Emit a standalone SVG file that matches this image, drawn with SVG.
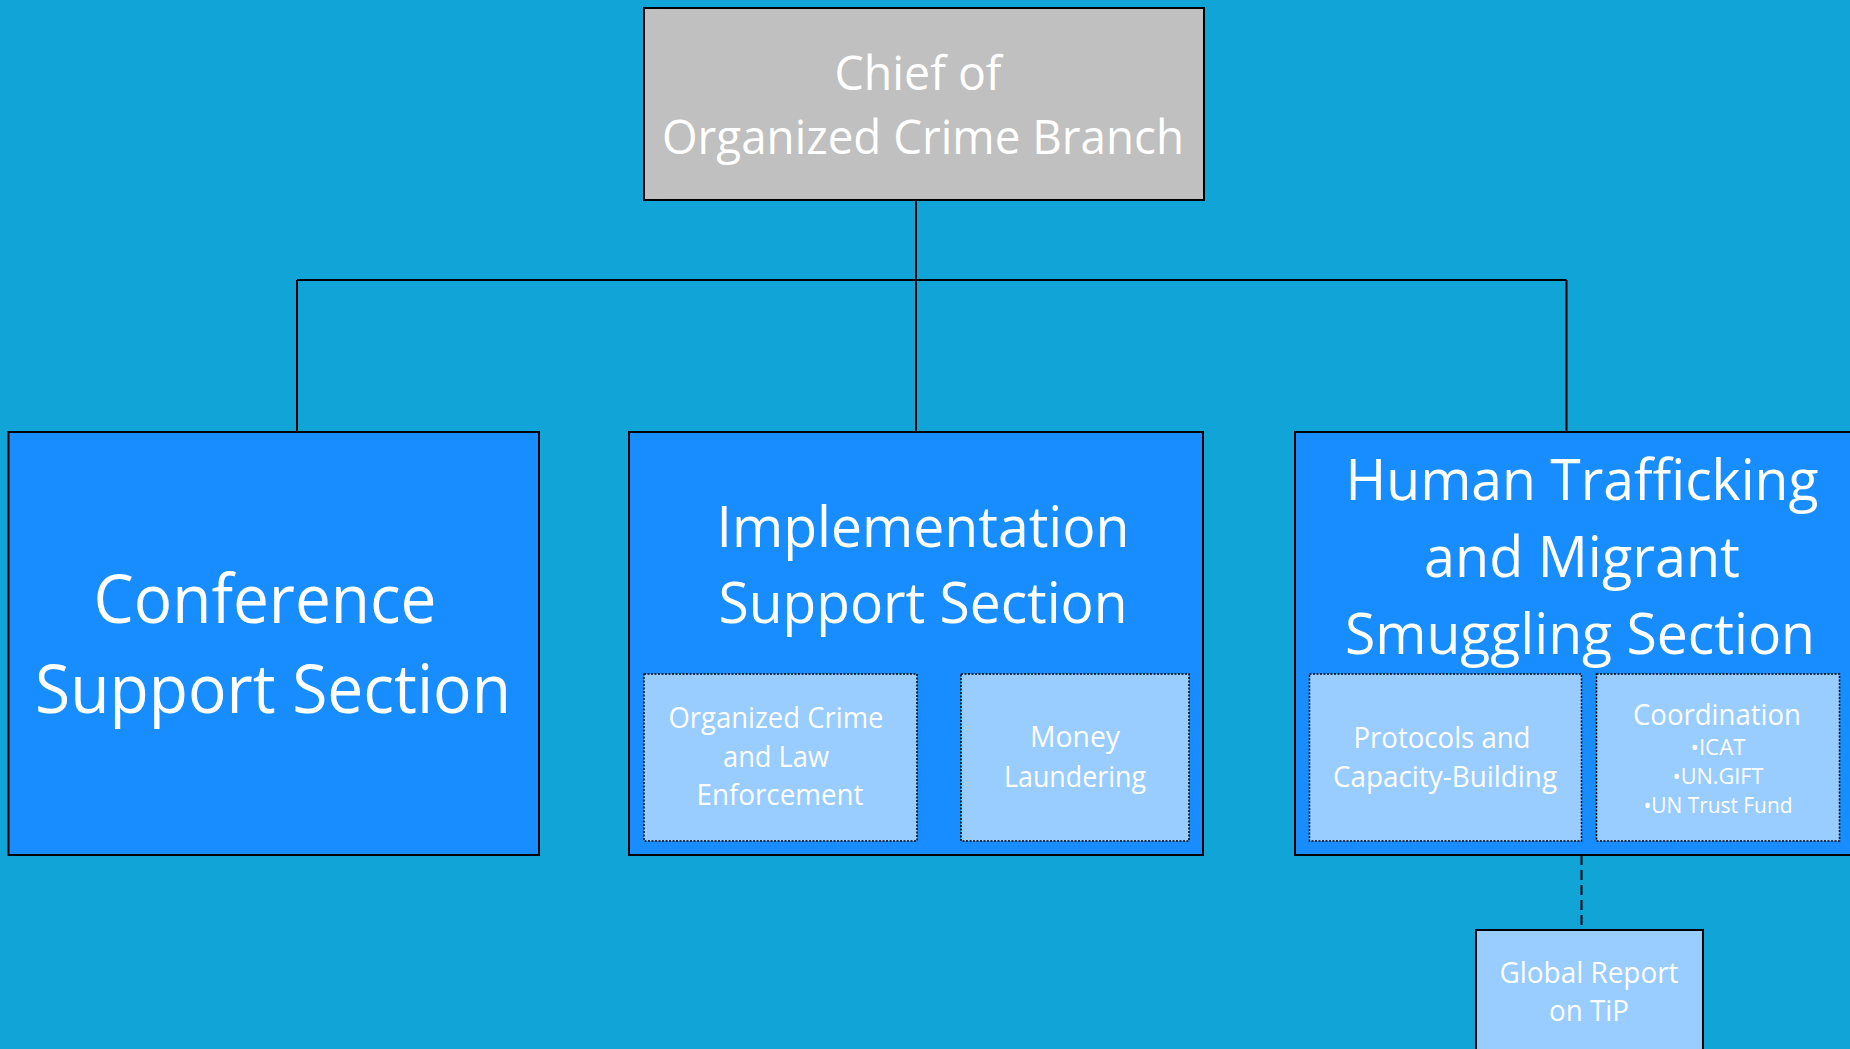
<svg xmlns="http://www.w3.org/2000/svg" width="1850" height="1049" viewBox="0 0 1850 1049">
<style>
.bg{fill:#11A5D7}
.main{fill:#178DFF;stroke:#000;stroke-width:2}
.chief{fill:#C0C0C0;stroke:#000;stroke-width:2}
.sub{fill:#99CCFF;stroke:#000;stroke-width:1.5;stroke-dasharray:2 1.5}
.solid{fill:#99CCFF;stroke:#000;stroke-width:2}
.conn{fill:none;stroke:#000;stroke-width:2}
.dash{fill:none;stroke:#000;stroke-width:2;stroke-dasharray:10 5}
text{font-family:"Open Sans","Noto Sans","Liberation Sans",sans-serif;fill:#fff;text-anchor:middle}
.t1{font-size:67px}
.t2{font-size:57px}
.t3{font-size:47px}
.t4{font-size:29px}
.t5{font-size:21px}
</style>
<rect class="bg" x="0" y="0" width="1850" height="1049"/>
<g id="connectors">
<path class="conn" d="M916 200 V280 M297 280 H1566.5 M297 280 V432 M916 280 V432 M1566.5 280 V432"/>
<path class="dash" d="M1581.5 855 V930"/>
</g>
<g id="chief">
<rect class="chief" x="644" y="8" width="560" height="192"/>
<text class="t3" x="918" y="90" textLength="167" lengthAdjust="spacingAndGlyphs">Chief of</text>
<text class="t3" x="923" y="154" textLength="522" lengthAdjust="spacingAndGlyphs">Organized Crime Branch</text>
</g>
<g id="conference">
<rect class="main" x="8.5" y="432" width="530.5" height="423"/>
<text class="t1" x="265" y="623" textLength="343" lengthAdjust="spacingAndGlyphs">Conference</text>
<text class="t1" x="273" y="713" textLength="476" lengthAdjust="spacingAndGlyphs">Support Section</text>
</g>
<g id="implementation">
<rect class="main" x="629" y="432" width="574" height="423"/>
<text class="t2" x="923" y="547" textLength="413" lengthAdjust="spacingAndGlyphs">Implementation</text>
<text class="t2" x="923" y="623" textLength="409" lengthAdjust="spacingAndGlyphs">Support Section</text>
</g>
<g id="organized-crime">
<rect class="sub" x="644" y="674" width="273" height="167"/>
<text class="t4" x="776" y="728" textLength="215" lengthAdjust="spacingAndGlyphs">Organized Crime</text>
<text class="t4" x="776" y="767" textLength="106" lengthAdjust="spacingAndGlyphs">and Law</text>
<text class="t4" x="780" y="805" textLength="167" lengthAdjust="spacingAndGlyphs">Enforcement</text>
</g>
<g id="money-laundering">
<rect class="sub" x="961" y="674" width="228" height="167"/>
<text class="t4" x="1075" y="747" textLength="90" lengthAdjust="spacingAndGlyphs">Money</text>
<text class="t4" x="1075" y="787" textLength="142" lengthAdjust="spacingAndGlyphs">Laundering</text>
</g>
<g id="human-trafficking">
<rect class="main" x="1295" y="432" width="600" height="423"/>
<text class="t2" x="1582" y="500" textLength="473" lengthAdjust="spacingAndGlyphs">Human Trafficking</text>
<text class="t2" x="1582" y="577" textLength="316" lengthAdjust="spacingAndGlyphs">and Migrant</text>
<text class="t2" x="1580" y="654" textLength="470" lengthAdjust="spacingAndGlyphs">Smuggling Section</text>
</g>
<g id="protocols">
<rect class="sub" x="1309.5" y="674" width="272" height="167"/>
<text class="t4" x="1442" y="748" textLength="177" lengthAdjust="spacingAndGlyphs">Protocols and</text>
<text class="t4" x="1445" y="787" textLength="224" lengthAdjust="spacingAndGlyphs">Capacity-Building</text>
</g>
<g id="coordination">
<rect class="sub" x="1596.5" y="674" width="243" height="167"/>
<text class="t4" x="1717" y="725" textLength="168" lengthAdjust="spacingAndGlyphs">Coordination</text>
<text class="t5" x="1718" y="755" textLength="55" lengthAdjust="spacingAndGlyphs">•ICAT</text>
<text class="t5" x="1718" y="784" textLength="91" lengthAdjust="spacingAndGlyphs">•UN.GIFT</text>
<text class="t5" x="1718" y="813" textLength="149" lengthAdjust="spacingAndGlyphs">•UN Trust Fund</text>
</g>
<g id="global-report">
<rect class="solid" x="1476" y="930" width="227" height="140"/>
<text class="t4" x="1589" y="983" textLength="179" lengthAdjust="spacingAndGlyphs">Global Report</text>
<text class="t4" x="1589" y="1021" textLength="80" lengthAdjust="spacingAndGlyphs">on TiP</text>
</g>
</svg>
